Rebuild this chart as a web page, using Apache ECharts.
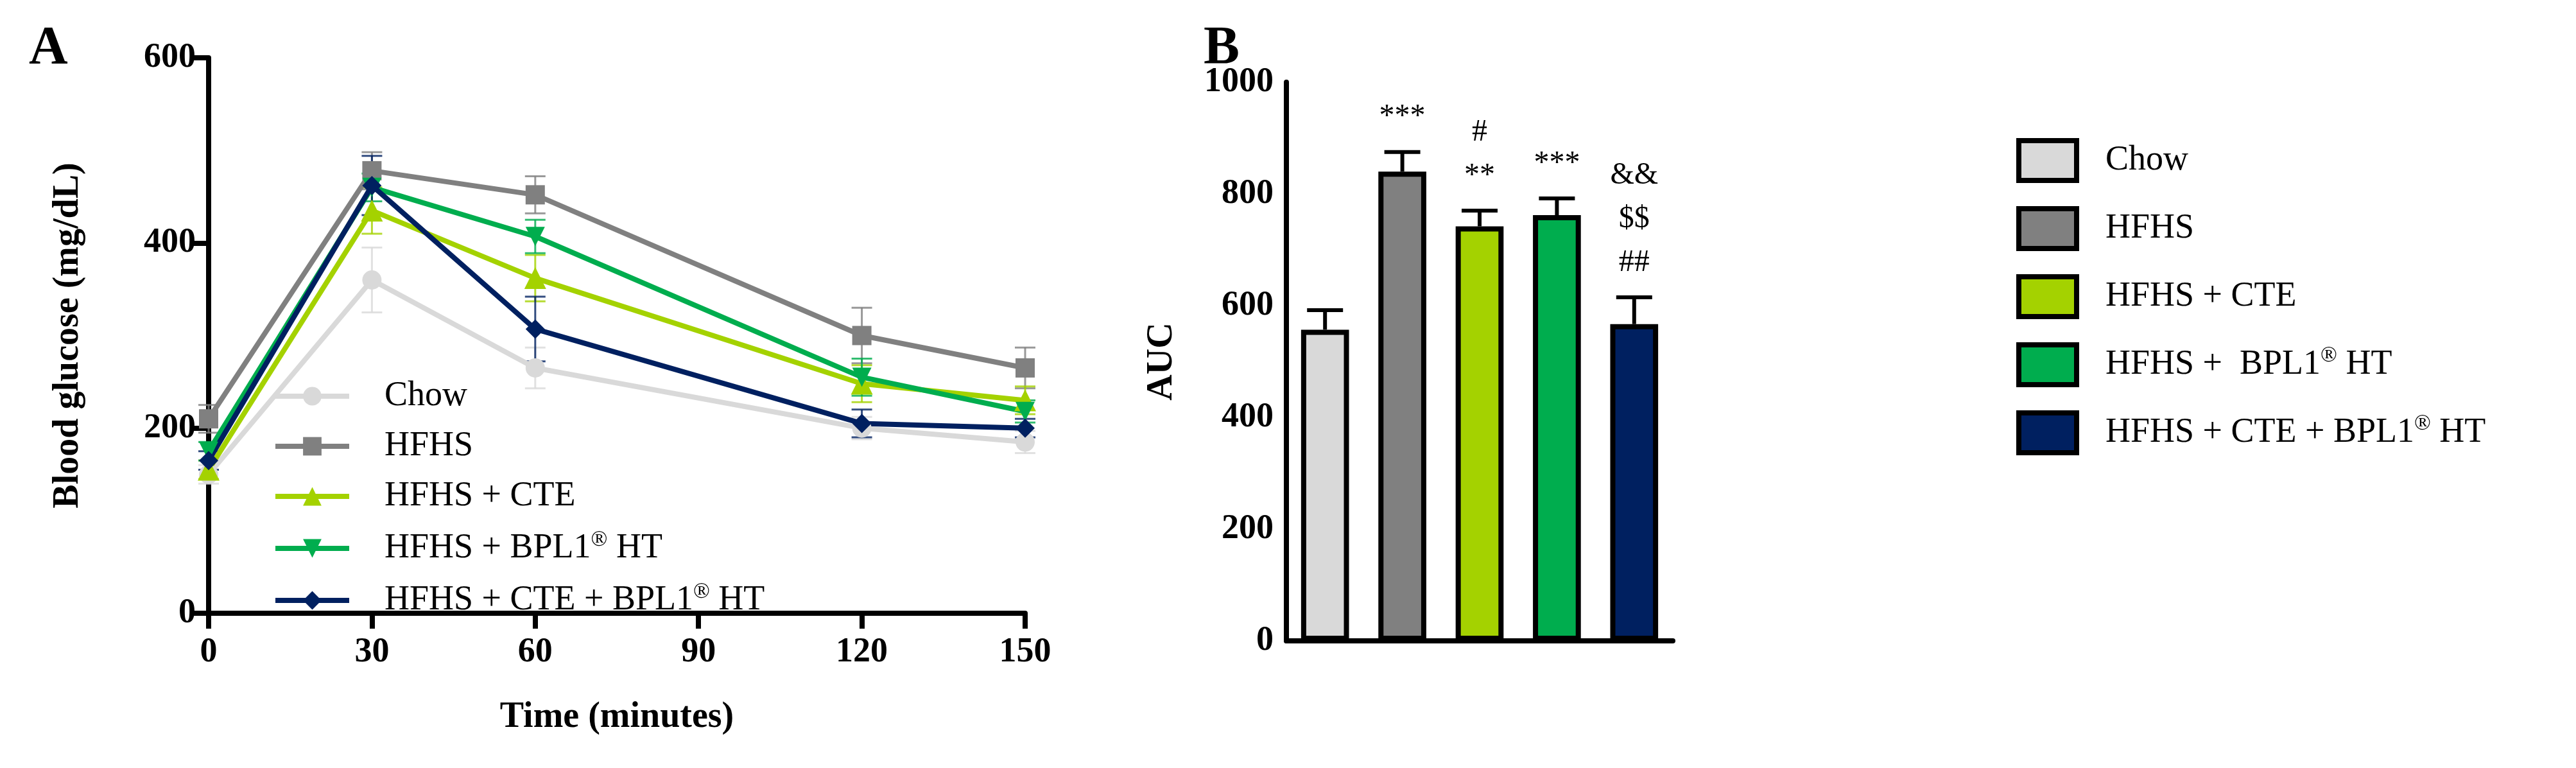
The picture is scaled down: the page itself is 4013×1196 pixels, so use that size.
<!DOCTYPE html>
<html><head><meta charset="utf-8">
<script src="https://cdn.jsdelivr.net/npm/echarts@6/dist/echarts.min.js"></script>
<style>html,body{margin:0;padding:0;background:#fff}#c{width:4013px;height:1196px}</style>
</head><body><div id="c"></div>
<script>
var times = [0, 30, 60, 120, 150];
var groups = ['Chow', 'HFHS', 'HFHS + CTE', 'HFHS + BPL1', 'HFHS + CTE + BPL1'];
var colors = ['#d9d9d9', '#808080', '#a4d200', '#00ad4e', '#002060'];
var symbols = ['circle', 'rect', 'triangle', 'path://M0,0 L10,0 L5,9 Z', 'diamond'];
var chow = [150, 360, 265, 200, 185];
var hfhs = [210, 478, 452, 300, 265];
var cte = [155, 435, 362, 248, 230];
var bpl = [175, 460, 407, 255, 218];
var both = [165, 462, 307, 205, 200];
var chowErr = [10, 35, 22, 12, 12];
var hfhsErr = [15, 20, 20, 30, 22];
var cteErr = [10, 25, 25, 20, 15];
var bplErr = [10, 15, 18, 20, 12];
var bothErr = [10, 32, 35, 15, 10];
var auc = [557, 840, 742, 762, 567];
var aucErr = [35, 35, 28, 30, 48];
var aucMarks = ['', '***', '#\n**', '***', '&&\n$$\n##'];

var lines = [chow, hfhs, cte, bpl, both];
var errs = [chowErr, hfhsErr, cteErr, bplErr, bothErr];
var font = 'Liberation Serif';
var legendNames = {
  'HFHS + BPL1': 'HFHS + BPL1{s|®} HT',
  'HFHS + CTE + BPL1': 'HFHS + CTE + BPL1{s|®} HT'
};
var legendNamesB = {
  'HFHS + BPL1': 'HFHS +  BPL1{s|®} HT',
  'HFHS + CTE + BPL1': 'HFHS + CTE + BPL1{s|®} HT'
};

var series = [];
lines.forEach(function (d, i) {
  var ed = times.map(function (t, k) { return [t, d[k] - errs[i][k], d[k] + errs[i][k]]; });
  series.push({
    type: 'custom', xAxisIndex: 0, yAxisIndex: 0, silent: true, z: 1,
    data: ed,
    renderItem: function (params, api) {
      var lo = api.coord([api.value(0), api.value(1)]);
      var hi = api.coord([api.value(0), api.value(2)]);
      var w = 16;
      var st = { stroke: colors[i], lineWidth: 3, opacity: 0.8 };
      return { type: 'group', children: [
        { type: 'line', shape: { x1: lo[0], y1: lo[1], x2: hi[0], y2: hi[1] }, style: st },
        { type: 'line', shape: { x1: lo[0] - w, y1: lo[1], x2: lo[0] + w, y2: lo[1] }, style: st },
        { type: 'line', shape: { x1: hi[0] - w, y1: hi[1], x2: hi[0] + w, y2: hi[1] }, style: st }
      ] };
    }
  });
  series.push({
    name: groups[i], type: 'line', xAxisIndex: 0, yAxisIndex: 0, z: 2,
    data: times.map(function (t, k) { return [t, d[k]]; }),
    symbol: symbols[i], symbolSize: i === 2 ? 34 : 30,
    lineStyle: { color: colors[i], width: 8 },
    itemStyle: { color: colors[i] }
  });
});

groups.forEach(function (g, i) {
  var d = auc.map(function (v, k) { return k === i ? v : '-'; });
  series.push({
    name: g, type: 'bar', xAxisIndex: 1, yAxisIndex: 1, stack: 'b', data: d,
    barWidth: '62%',
    itemStyle: { color: colors[i], borderColor: '#000', borderWidth: 8 }
  });
});
series.push({
  type: 'custom', xAxisIndex: 1, yAxisIndex: 1, silent: true, z: 0,
  data: auc.map(function (v, k) { return [k, v, v + aucErr[k]]; }),
  renderItem: function (params, api) {
    var lo = api.coord([api.value(0), api.value(1)]);
    var hi = api.coord([api.value(0), api.value(2)]);
    var st = { stroke: '#000', lineWidth: 6 };
    return { type: 'group', children: [
      { type: 'line', shape: { x1: lo[0], y1: lo[1], x2: hi[0], y2: hi[1] }, style: st },
      { type: 'line', shape: { x1: hi[0] - 28, y1: hi[1], x2: hi[0] + 28, y2: hi[1] }, style: st },
      { type: 'text', style: { x: hi[0], y: hi[1] - 20, text: aucMarks[params.dataIndex], align: 'center', verticalAlign: 'bottom', font: '48px ' + font, fill: '#000', lineHeight: 68 } }
    ] };
  }
});

var axisTick = { lineStyle: { color: '#000', width: 8 }, length: 24 };
var tickLabel = { color: '#000', fontFamily: font, fontWeight: 'bold', fontSize: 54 };

var chart = echarts.init(document.getElementById('c'));
chart.setOption({
  animation: false,
  textStyle: { fontFamily: font },
  title: [
    { text: 'A', left: 40, top: 30, textStyle: { fontFamily: font, fontSize: 84, fontWeight: 'bold', color: '#000' } },
    { text: 'B', left: 1870, top: 30, textStyle: { fontFamily: font, fontSize: 84, fontWeight: 'bold', color: '#000' } }
  ],
  grid: [
    { left: 325, right: 2416, top: 90, bottom: 241 },
    { left: 2004, width: 602, top: 128, bottom: 198 }
  ],
  xAxis: [
    { gridIndex: 0, type: 'value', min: 0, max: 150, interval: 30,
      name: 'Time (minutes)', nameLocation: 'middle', nameGap: 135,
      nameTextStyle: { color: '#000', fontFamily: font, fontWeight: 'bold', fontSize: 56 },
      axisLine: { lineStyle: { color: '#000', width: 8 } }, axisTick: axisTick,
      axisLabel: Object.assign({ margin: 34 }, tickLabel), splitLine: { show: false } },
    { gridIndex: 1, type: 'category', data: groups,
      axisLine: { lineStyle: { color: '#000', width: 8 } }, axisTick: { show: false },
      axisLabel: { show: false } }
  ],
  yAxis: [
    { gridIndex: 0, type: 'value', min: 0, max: 600, interval: 200,
      name: 'Blood glucose (mg/dL)', nameLocation: 'middle', nameGap: 190,
      nameTextStyle: { color: '#000', fontFamily: font, fontWeight: 'bold', fontSize: 56 },
      axisLine: { show: true, lineStyle: { color: '#000', width: 8 } }, axisTick: axisTick,
      axisLabel: Object.assign({ margin: 20 }, tickLabel), splitLine: { show: false } },
    { gridIndex: 1, type: 'value', min: 0, max: 1000, interval: 200,
      name: 'AUC', nameLocation: 'middle', nameGap: 165,
      nameTextStyle: { color: '#000', fontFamily: font, fontWeight: 'bold', fontSize: 56 },
      axisLine: { show: true, lineStyle: { color: '#000', width: 8 } }, axisTick: axisTick,
      axisLabel: Object.assign({ margin: 20, formatter: function (v) { return String(v); } }, tickLabel), splitLine: { show: false } }
  ],
  legend: [
    { data: groups, left: 420, top: 585, orient: 'vertical', itemGap: 24,
      itemWidth: 115, itemHeight: 36,
      lineStyle: { width: 8 },
      formatter: function (n) { return legendNames[n] || n; },
      textStyle: { fontFamily: font, fontSize: 54, color: '#000', padding: [0, 0, 0, 50], rich: { s: { fontSize: 34, verticalAlign: 'top', padding: [0, 0, 26, 0], fontFamily: font } } } },
    { data: groups.map(function (g) { return { name: g, icon: 'rect', itemStyle: { borderColor: '#000', borderWidth: 8 } }; }),
      left: 3136, top: 210, orient: 'vertical', itemGap: 36,
      itemWidth: 90, itemHeight: 62,
      formatter: function (n) { return legendNamesB[n] || n; },
      textStyle: { fontFamily: font, fontSize: 54, color: '#000', padding: [0, 0, 0, 40], rich: { s: { fontSize: 34, verticalAlign: 'top', padding: [0, 0, 28, 0], fontFamily: font } } } }
  ],
  series: series
});
</script></body></html>
